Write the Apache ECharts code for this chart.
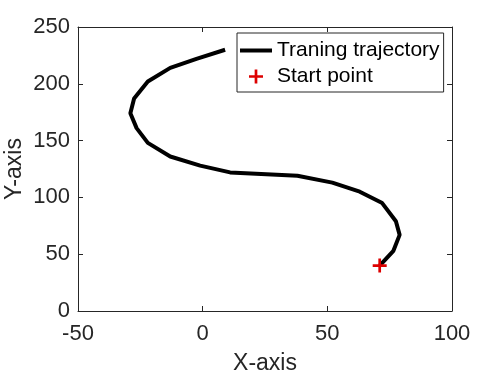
<!DOCTYPE html>
<html>
<head>
<meta charset="utf-8">
<script src="https://cdn.jsdelivr.net/npm/echarts@6/dist/echarts.min.js"></script>
<style>
  html, body { margin: 0; padding: 0; background: #fff; }
  #chart { width: 499px; height: 376px; }
</style>
</head>
<body>
<div id="chart"></div>
<script>
// trajectory (start -> end)
const trajX = [71, 76.5, 79, 77.5, 72, 63, 52, 38, 11, -1, -13, -22, -26.5, -29, -27.5, -22, -13, -2.5, 9];
const trajY = [40, 53, 67, 79, 95, 105, 113, 119, 122, 128, 136, 148, 161, 174, 187, 202, 214, 222, 230];
const startX = [71];
const startY = [40];
const xTicks = { min: -50, max: 100, interval: 50 };
const yTicks = { min: 0, max: 250, interval: 50 };

const axisColor = "#262626";
const font = "Liberation Sans, Arial, Helvetica, sans-serif";
const plus = "path://M5.25,0 H7.75 V5.25 H13 V7.75 H7.75 V13 H5.25 V7.75 H0 V5.25 H5.25 Z";
const bar = "path://M0,0 H32 V4 H0 Z";

const chart = echarts.init(document.getElementById("chart"));

const baseAxis = (t) => ({
  type: "value",
  min: t.min,
  max: t.max,
  interval: t.interval,
  splitLine: { show: false },
  axisLine: { show: true, onZero: false, lineStyle: { color: axisColor, width: 1 } },
  axisTick: { show: true, inside: true, length: 5, lineStyle: { color: axisColor } },
});

chart.setOption({
  animation: false,
  textStyle: { fontFamily: font },
  grid: { left: 78, right: 47, top: 27, bottom: 65, containLabel: false, outerBoundsMode: "none" },
  legend: {
    orient: "vertical",
    left: 237,
    top: 33,
    padding: [7, 4, 5, 3],
    itemGap: 5,
    itemWidth: 32,
    itemHeight: 14,
    backgroundColor: "#fff",
    borderColor: axisColor,
    borderWidth: 1,
    borderRadius: 0,
    textStyle: { fontSize: 21, color: "#000", fontFamily: font },
    data: [
      { name: "Traning trajectory", icon: bar, itemStyle: { color: "#000" } },
      { name: "Start point", icon: plus, itemStyle: { color: "#dd0000", opacity: 1 } },
    ],
  },
  xAxis: [
    {
      ...baseAxis(xTicks),
      position: "bottom",
      name: "X-axis",
      nameLocation: "middle",
      nameGap: 41,
      nameMoveOverlap: false,
      nameTextStyle: { fontSize: 23, color: axisColor, fontFamily: font },
      axisLabel: { fontSize: 22, color: axisColor, margin: 12, fontFamily: font },
    },
    {
      ...baseAxis(xTicks),
      position: "top",
      axisLabel: { show: false },
    },
  ],
  yAxis: [
    {
      ...baseAxis(yTicks),
      position: "left",
      name: "Y-axis",
      nameLocation: "middle",
      nameGap: 52,
      nameMoveOverlap: false,
      nameTextStyle: { fontSize: 23, color: axisColor, fontFamily: font },
      axisLabel: { fontSize: 22, color: axisColor, margin: 8, fontFamily: font },
    },
    {
      ...baseAxis(yTicks),
      position: "right",
      axisLabel: { show: false },
    },
  ],
  series: [
    {
      name: "Traning trajectory",
      type: "line",
      data: trajX.map((x, i) => [x, trajY[i]]),
      showSymbol: false,
      symbol: "none",
      smooth: false,
      color: "#000",
      lineStyle: { color: "#000", width: 4 },
      z: 2,
    },
    {
      name: "Start point",
      type: "scatter",
      data: startX.map((x, i) => [x, startY[i]]),
      symbol: plus,
      symbolSize: 14,
      itemStyle: { color: "#dd0000", opacity: 1 },
      z: 3,
    },
  ],
});
</script>
</body>
</html>
